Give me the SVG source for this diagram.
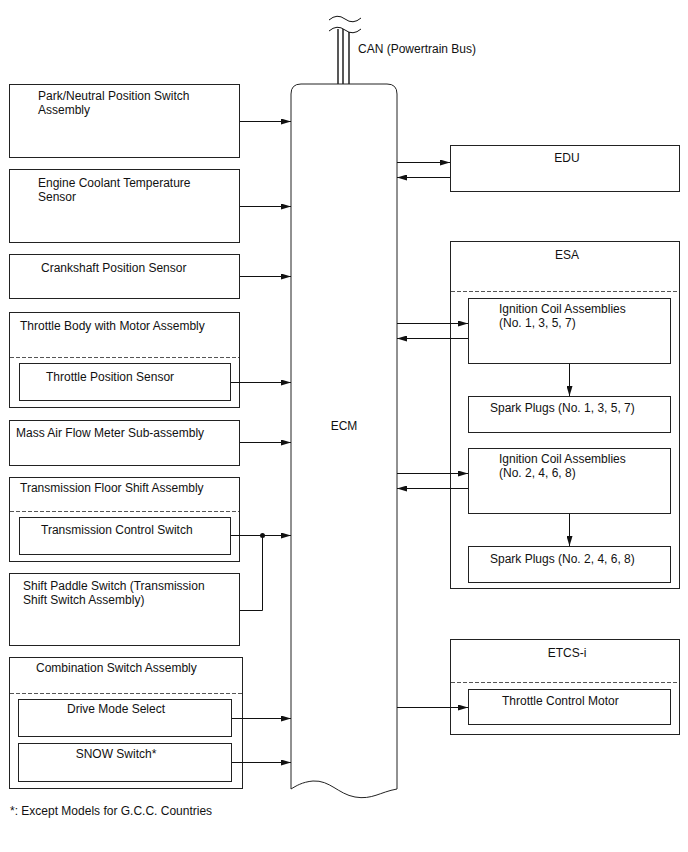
<svg xmlns="http://www.w3.org/2000/svg" width="688" height="852" viewBox="0 0 688 852">
<style>
text{font-family:"Liberation Sans",Arial,sans-serif;font-size:12px;fill:#111}
.b{fill:#fff;stroke:#222;stroke-width:1}
.d{stroke:#555;stroke-width:1;stroke-dasharray:4 2;fill:none}
.l{stroke:#111;stroke-width:1;fill:none}
.a{stroke:#111;stroke-width:1;fill:none;marker-end:url(#ah)}
</style>
<defs>
<marker id="ah" viewBox="0 0 10 6" refX="10" refY="3" markerWidth="10" markerHeight="6" markerUnits="userSpaceOnUse" orient="auto">
<path d="M0,0 L10,3 L0,6 Z" fill="#111"/>
</marker>
</defs>
<rect width="688" height="852" fill="#fff"/>

<g id="can">
<path class="l" d="M329,20 Q337,13 345,19 T361,18"/>
<path class="l" d="M329,31 Q337,24 345,30 T361,29"/>
<line x1="338" y1="29" x2="338" y2="84" stroke="#111" stroke-width="1.4"/>
<line x1="343" y1="29" x2="343" y2="84" stroke="#111" stroke-width="1.4"/>
<line x1="349" y1="32" x2="349" y2="84" stroke="#111" stroke-width="1.4"/>
<text x="358" y="53">CAN (Powertrain Bus)</text>
</g>

<g id="ecm">
<path class="b" d="M291,789 L291,94 Q291,84 301,84 L387,84 Q397,84 397,94 L397,789 C380,792 372,800 355,797 C338,794 330,780 313,781 C302,782 296,786 291,789 Z"/>
<text x="344" y="430" text-anchor="middle">ECM</text>
</g>

<g id="park-neutral">
<rect class="b" x="9.5" y="84.5" width="230" height="73"/>
<text x="38" y="100">Park/Neutral Position Switch</text>
<text x="38" y="114">Assembly</text>
</g>

<g id="ect">
<rect class="b" x="9.5" y="169.5" width="230" height="73"/>
<text x="38" y="187">Engine Coolant Temperature</text>
<text x="38" y="201">Sensor</text>
</g>

<g id="crank">
<rect class="b" x="9.5" y="254.5" width="230" height="44"/>
<text x="41" y="272">Crankshaft Position Sensor</text>
</g>

<g id="throttle-body">
<rect class="b" x="9.5" y="312.5" width="230" height="95"/>
<text x="20" y="330">Throttle Body with Motor Assembly</text>
<line class="d" x1="10" y1="357.5" x2="239" y2="357.5"/>
<rect class="b" x="19.5" y="363.5" width="211" height="37"/>
<text x="46" y="381">Throttle Position Sensor</text>
</g>

<g id="maf">
<rect class="b" x="9.5" y="420.5" width="230" height="45"/>
<text x="16" y="437">Mass Air Flow Meter Sub-assembly</text>
</g>

<g id="floor-shift">
<rect class="b" x="9.5" y="477.5" width="230" height="84"/>
<text x="20" y="492">Transmission Floor Shift Assembly</text>
<line class="d" x1="10" y1="511.5" x2="239" y2="511.5"/>
<rect class="b" x="19.5" y="517.5" width="211" height="37"/>
<text x="41" y="534">Transmission Control Switch</text>
</g>

<g id="paddle">
<rect class="b" x="9.5" y="573.5" width="230" height="72"/>
<text x="23" y="590">Shift Paddle Switch (Transmission</text>
<text x="23" y="604">Shift Switch Assembly)</text>
</g>

<g id="combination">
<rect class="b" x="9.5" y="657.5" width="233" height="131"/>
<text x="36" y="672">Combination Switch Assembly</text>
<line class="d" x1="10" y1="693.5" x2="242" y2="693.5"/>
<rect class="b" x="18.5" y="699.5" width="213" height="37"/>
<text x="116" y="713" text-anchor="middle">Drive Mode Select</text>
<rect class="b" x="18.5" y="743.5" width="213" height="38"/>
<text x="116" y="758" text-anchor="middle">SNOW Switch*</text>
</g>

<g id="edu">
<rect class="b" x="450.5" y="145.5" width="229" height="46"/>
<text x="567" y="162" text-anchor="middle">EDU</text>
</g>

<g id="esa">
<rect class="b" x="450.5" y="241.5" width="229" height="347"/>
<text x="567" y="259" text-anchor="middle">ESA</text>
<line class="d" x1="451" y1="291.5" x2="679" y2="291.5"/>
</g>

<g id="coil-1357">
<rect class="b" x="468.5" y="298.5" width="202" height="65"/>
<text x="499" y="313">Ignition Coil Assemblies</text>
<text x="499" y="327">(No. 1, 3, 5, 7)</text>
</g>

<g id="plug-1357">
<rect class="b" x="468.5" y="396.5" width="202" height="36"/>
<text x="490" y="412">Spark Plugs (No. 1, 3, 5, 7)</text>
</g>

<g id="coil-2468">
<rect class="b" x="468.5" y="448.5" width="202" height="65"/>
<text x="499" y="463">Ignition Coil Assemblies</text>
<text x="499" y="477">(No. 2, 4, 6, 8)</text>
</g>

<g id="plug-2468">
<rect class="b" x="468.5" y="546.5" width="202" height="36"/>
<text x="490" y="563">Spark Plugs (No. 2, 4, 6, 8)</text>
</g>

<g id="etcs">
<rect class="b" x="450.5" y="639.5" width="229" height="95"/>
<text x="567" y="657" text-anchor="middle">ETCS-i</text>
<line class="d" x1="451" y1="682.5" x2="679" y2="682.5"/>
</g>

<g id="throttle-motor">
<rect class="b" x="468.5" y="689.5" width="202" height="35"/>
<text x="502" y="705">Throttle Control Motor</text>
</g>

<g id="connectors">
<line class="a" x1="240" y1="121.5" x2="291" y2="121.5"/>
<line class="a" x1="240" y1="206.5" x2="291" y2="206.5"/>
<line class="a" x1="240" y1="276.5" x2="291" y2="276.5"/>
<line class="a" x1="231" y1="382.5" x2="291" y2="382.5"/>
<line class="a" x1="240" y1="442.5" x2="291" y2="442.5"/>
<line class="a" x1="231" y1="535.5" x2="291" y2="535.5"/>
<polyline class="l" points="240,610.5 262.5,610.5 262.5,535.5"/>
<circle cx="262.5" cy="535.5" r="2.5" fill="#111"/>
<line class="a" x1="232" y1="718.5" x2="291" y2="718.5"/>
<line class="a" x1="232" y1="762.5" x2="291" y2="762.5"/>
<line class="a" x1="397" y1="162.5" x2="450" y2="162.5"/>
<line class="a" x1="450" y1="177.5" x2="397" y2="177.5"/>
<line class="a" x1="397" y1="323.5" x2="468" y2="323.5"/>
<line class="a" x1="468" y1="338.5" x2="397" y2="338.5"/>
<line class="a" x1="569.5" y1="364" x2="569.5" y2="396"/>
<line class="a" x1="397" y1="473.5" x2="468" y2="473.5"/>
<line class="a" x1="468" y1="488.5" x2="397" y2="488.5"/>
<line class="a" x1="569.5" y1="514" x2="569.5" y2="546"/>
<line class="a" x1="397" y1="707.5" x2="468" y2="707.5"/>
</g>

<text x="10" y="815">*: Except Models for G.C.C. Countries</text>
</svg>
